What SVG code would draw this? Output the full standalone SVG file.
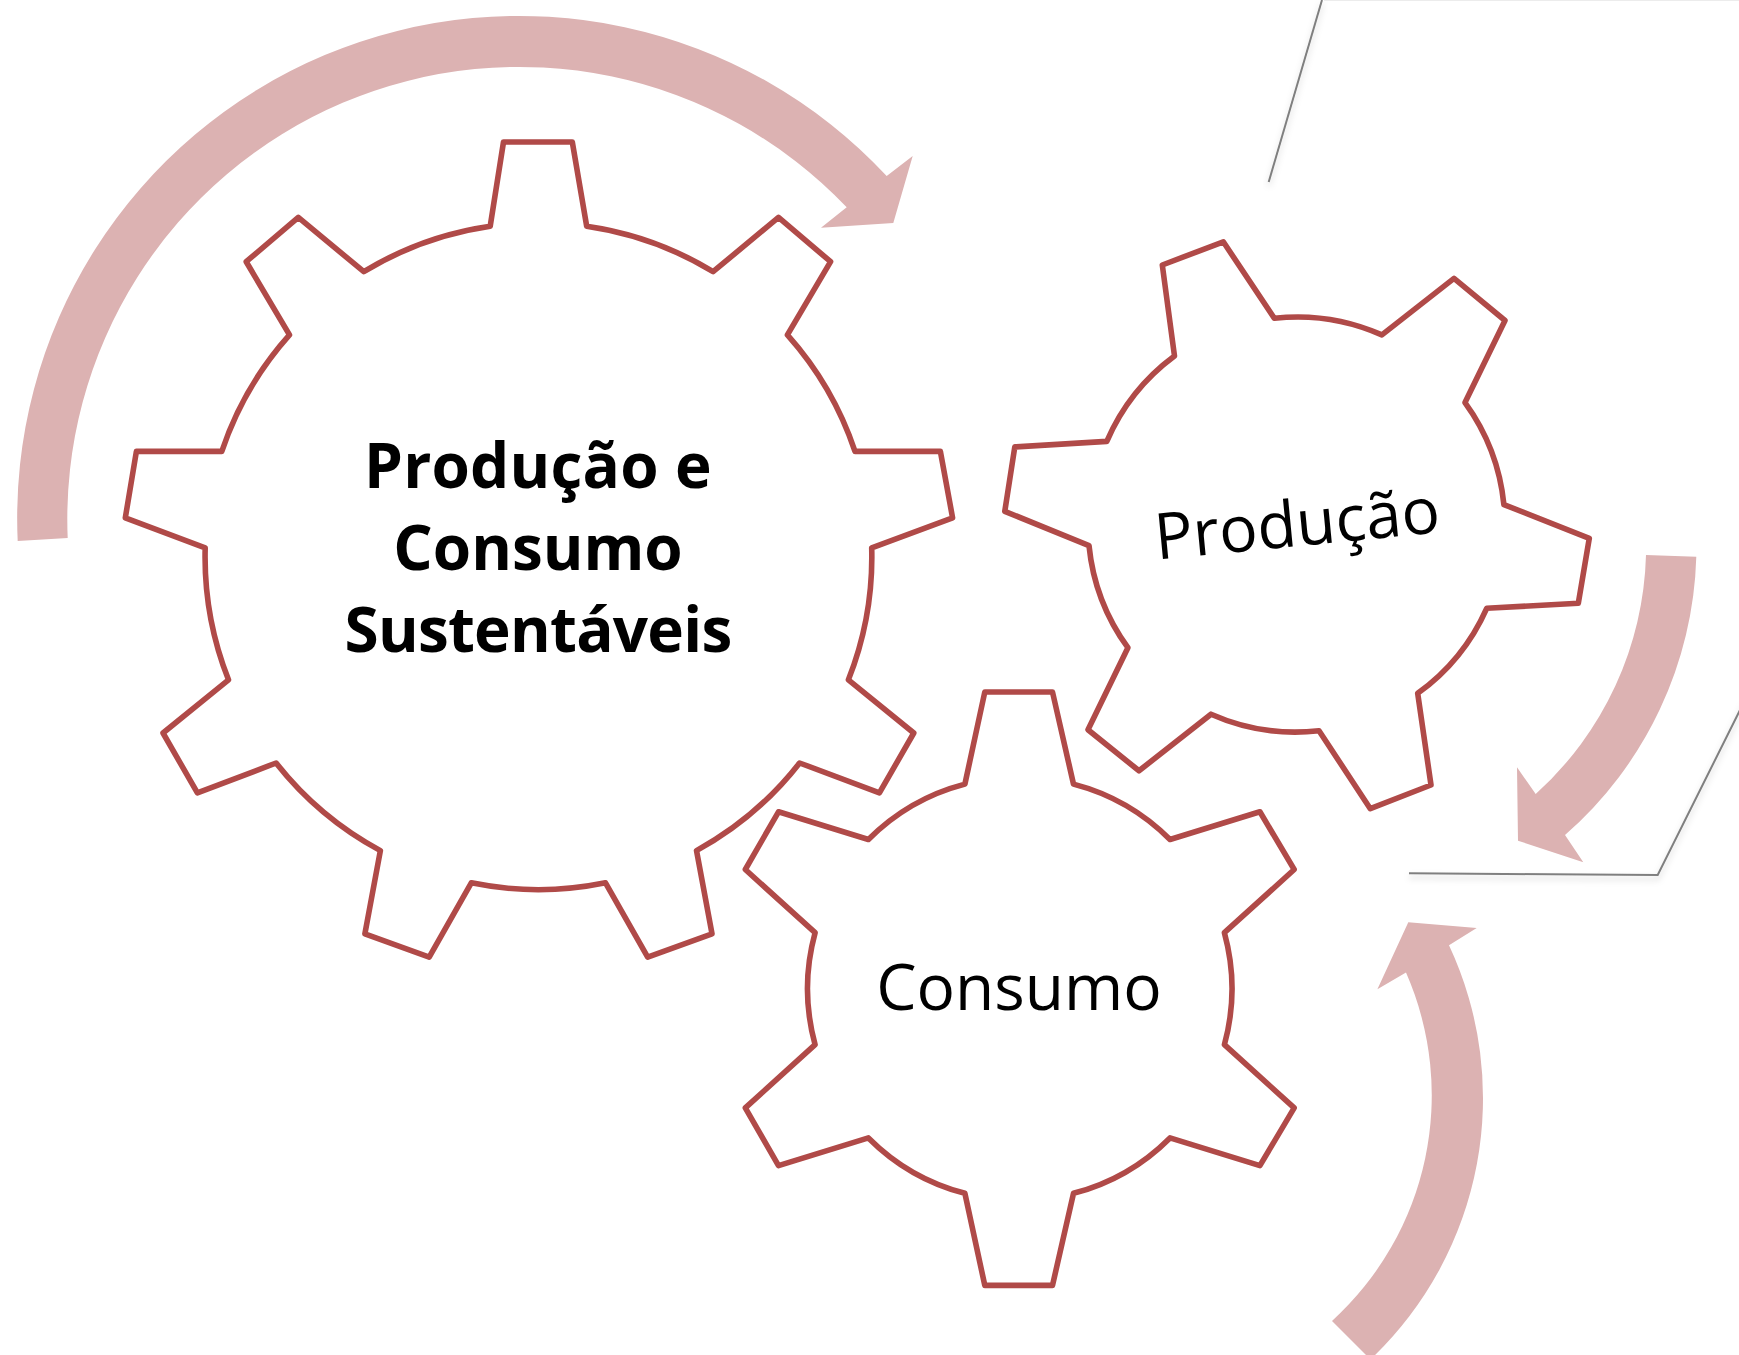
<svg xmlns="http://www.w3.org/2000/svg" width="1739" height="1355" viewBox="0 0 1739 1355">
<style>
.gear{fill:#fff;stroke:#b04a48;stroke-width:5.6;stroke-linejoin:round}
.arrow{fill:#dcb2b2;stroke:none}
.edge{fill:none;stroke:#7f7f7f;stroke-width:2;filter:url(#sh)}
text{font-family:"Open Sans","Noto Sans","Liberation Sans",sans-serif;fill:#000;text-anchor:middle}
.big{font-size:62px;font-weight:700}
.lab{font-size:64px}
</style>
<defs><filter id="sh" x="-10%" y="-10%" width="120%" height="120%"><feDropShadow dx="0" dy="4" stdDeviation="3" flood-color="#000" flood-opacity="0.18"/></filter></defs>
<rect width="1739" height="1355" fill="#fff"/>
<g id="connectors">
<path class="arrow" d="M17.7 541A502 502 0 0 1 886.7 176L912.7 156L893.3 223L821 227.7L846.7 207.3A452 452 0 0 0 67.7 538Z"/>
<path class="arrow" d="M1646 555L1696.3 556.7A384 384 0 0 1 1565 835L1583.3 862.3L1518 840.7L1517 767.3L1535.7 794A334 334 0 0 0 1646 555Z"/>
<path class="arrow" d="M1332 1320.9A305 305 0 0 0 1406 972.6L1377.4 989.3L1408.3 922.3L1476.7 928L1449 945.3A360 360 0 0 1 1372 1358L1369 1358Z"/>
</g>
<g id="frame">
<path class="edge" d="M1322 0L1268.7 182"/>
<path class="edge" d="M1409 873.3L1657.7 875L1745 700"/>
<path d="M1324 0.5H1739" fill="none" stroke="#ececec" stroke-width="1"/>
</g>
<g id="node-producao-consumo">
<path class="gear" d="M503.5 142L572.3 142L586.7 226.2A334 334 0 0 1 713.1 271.7L778.5 217.4L830.6 261.7L787.4 334.9A334 334 0 0 1 855 451.4L940.4 451.4L952.6 517.9L871.7 547.8A334 334 0 0 1 848.4 679.8L913.8 733L879.4 792.9L799.6 763A334 334 0 0 1 696.5 850.6L712 933.8L647.7 957.1L605.5 882.8A334 334 0 0 1 471.3 882.8L429.2 957.1L364.9 933.8L380.4 850.6A334 334 0 0 1 276.1 763L197.4 792.9L163 733L228.5 679.8A334 334 0 0 1 205.2 547.8L125.3 517.9L136.4 451.4L221.8 451.4A334 334 0 0 1 289.5 334.9L246.2 261.7L298.3 217.4L363.8 271.7A334 334 0 0 1 490.2 226.2Z"/>
<text class="big" x="538" y="488" letter-spacing="0.2">Produção e</text>
<text class="big" x="538" y="569.5">Consumo</text>
<text class="big" x="538" y="651.5" letter-spacing="-0.75">Sustentáveis</text>
</g>
<g id="node-producao">
<path class="gear" d="M1162.3 265L1223.3 241.8L1274.3 318.3A209 209 0 0 1 1381.9 334.9L1454 278.4L1505 320.5L1465 402.6A209 209 0 0 1 1503.9 504.6L1589.3 538.3L1578.3 603.3L1486.7 608.3A209 209 0 0 1 1417.7 693.3L1431 785L1370.3 808.7L1319 730.7A209 209 0 0 1 1211 714.2L1139 770.8L1088 729.7L1127.9 647.7A209 209 0 0 1 1089 545.6L1004.8 511.3L1014.8 446.9L1106.8 441.4A209 209 0 0 1 1174.5 356Z"/>
<text class="lab" x="1297" y="546" transform="rotate(-5.5 1297 524)">Produção</text>
</g>
<g id="node-consumo">
<path class="gear" d="M984.8 692L1052.5 692L1073.5 784.1A212 212 0 0 1 1170 839.5L1259.9 811.8L1294.2 869.5L1224.4 932.7A212 212 0 0 1 1224.4 1044.7L1294.2 1107.9L1259.9 1165.6L1170 1137.9A212 212 0 0 1 1073.5 1193.3L1052.5 1285.4L984.8 1285.4L964.9 1193.3A212 212 0 0 1 868.4 1137.9L778.5 1165.6L745.3 1107.9L815.1 1044.7A212 212 0 0 1 815.1 932.7L745.3 869.5L778.5 811.8L868.4 839.5A212 212 0 0 1 964.9 784.1Z"/>
<text class="lab" x="1019" y="1010">Consumo</text>
</g>
</svg>
